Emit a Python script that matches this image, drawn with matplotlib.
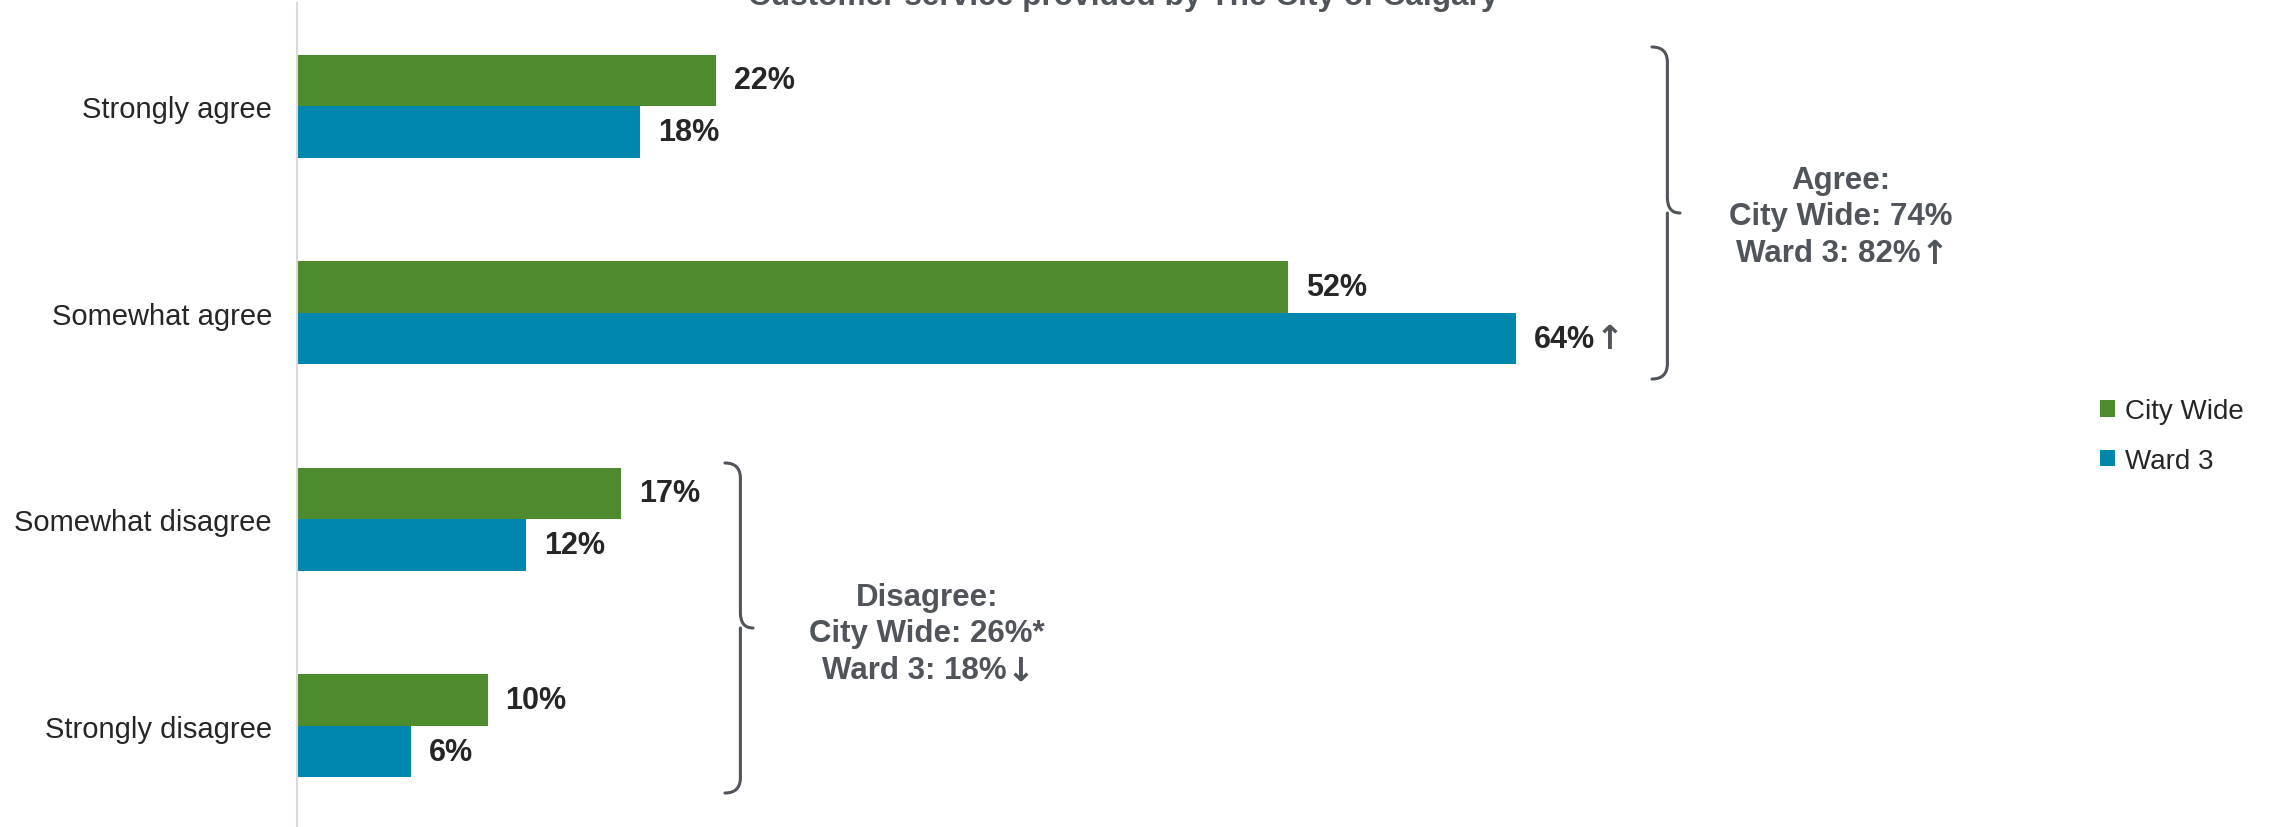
import matplotlib
matplotlib.use("Agg")
import matplotlib.pyplot as plt
from matplotlib.path import Path
from matplotlib.patches import PathPatch

categories = ["Strongly agree", "Somewhat agree", "Somewhat disagree", "Strongly disagree"]
city_wide = [22, 52, 17, 10]
ward3 = [18, 64, 12, 6]
ward3_marks = ["", "\u2191", "", ""]
series_names = ["City Wide", "Ward 3"]
title = "Customer service provided by The City of Calgary"
agree_text = ["Agree:", "City Wide: 74%", "Ward 3: 82%"]
agree_mark = "\u2191"
disagree_text = ["Disagree:", "City Wide: 26%*", "Ward 3: 18%"]
disagree_mark = "\u2193"

GREEN = "#4E8A2E"
BLUE = "#0087AD"
DARK = "#262626"
GRAY = "#50545B"
FONT = ["Liberation Sans", "DejaVu Sans"]
ARROWFONT = ["DejaVu Sans"]

plt.rcParams["font.family"] = FONT

W, H = 2272, 828
fig = plt.figure(figsize=(W / 100, H / 100), dpi=100)
ax_left = 297 / W
px_per_pct = 19.05
xmax = 80
ax = fig.add_axes([ax_left, 0, xmax * px_per_pct / W, 1 - 4 / H])
ax.set_xlim(0, xmax)
ax.set_ylim(3.49, -0.5)

h = 0.25
ys = list(range(len(categories)))
ax.barh([y - h / 2 for y in ys], city_wide, height=h, color=GREEN, label=series_names[0])
ax.barh([y + h / 2 for y in ys], ward3, height=h, color=BLUE, label=series_names[1])

for y, v in zip(ys, city_wide):
    ax.annotate(f"{v}%", xy=(v, y - h / 2), xytext=(13, 0), textcoords="offset points",
                va="center", ha="left", fontsize=22, fontweight="bold", color=DARK)
for y, v, m in zip(ys, ward3, ward3_marks):
    t = ax.annotate(f"{v}%", xy=(v, y + h / 2), xytext=(13, 0), textcoords="offset points",
                    va="center", ha="left", fontsize=22, fontweight="bold", color=DARK)
    if m:
        ax.annotate(m, xy=(1, 0.5), xycoords=t, xytext=(0, 0), textcoords="offset points",
                    va="center", ha="left", fontsize=24, fontweight="bold", color=GRAY,
                    family=ARROWFONT)

ax.set_yticks(ys)
ax.set_yticklabels(categories, fontsize=21, color=DARK)
ax.tick_params(axis="y", length=0, pad=18)
ax.set_xticks([])
for s in ["top", "right", "bottom"]:
    ax.spines[s].set_visible(False)
ax.spines["left"].set_color("#D9D9D9")
ax.spines["left"].set_linewidth(1.5)


def brace(x0, y_top, y_bot, width):
    # right-pointing curly brace in figure pixel coords (y from top)
    ym = (y_top + y_bot) / 2
    r = width * 0.55
    xs = x0 + width * 0.55
    verts = [
        (x0, y_top), (xs, y_top), (xs, y_top + r),
        (xs, ym - r),
        (xs, ym), (x0 + width, ym),
        (xs, ym), (xs, ym + r),
        (xs, y_bot - r),
        (xs, y_bot), (x0, y_bot),
    ]
    codes = [Path.MOVETO, Path.CURVE3, Path.CURVE3,
             Path.LINETO,
             Path.CURVE3, Path.CURVE3,
             Path.MOVETO, Path.CURVE3,
             Path.LINETO,
             Path.CURVE3, Path.CURVE3]
    verts = [(x / W, 1 - y / H) for x, y in verts]
    p = PathPatch(Path(verts, codes), transform=fig.transFigure, fill=False,
                  edgecolor=GRAY, linewidth=2.2, capstyle="round", joinstyle="round")
    fig.add_artist(p)


brace(1652, 48, 380, 28)
brace(725, 464, 794, 28)


def block(cx, y0, lines, mark):
    n = len(lines)
    for i, line in enumerate(lines):
        last = i == n - 1
        xo = -13 if last else 0
        t = fig.text((cx + xo) / W, 1 - (y0 + 36.5 * i) / H, line, ha="center", va="center",
                     fontsize=22.5, fontweight="bold", color=GRAY)
        if last:
            ax.annotate(mark, xy=(1, 0.5), xycoords=t, xytext=(0, 0), textcoords="offset points",
                        ha="left", va="center", fontsize=24, fontweight="bold", color=GRAY,
                        family=ARROWFONT, annotation_clip=False)


block(1841, 181, agree_text, agree_mark)
block(927, 598, disagree_text, disagree_mark)

fig.text(1123 / W, 1 - 5 / H, title, ha="center", va="baseline",
         fontsize=22.8, fontweight="bold", color=GRAY)

leg = fig.legend(loc="center left", bbox_to_anchor=(2075 / W, 1 - 437 / H), frameon=False,
                 fontsize=20, handlelength=0.55, handleheight=0.55, handletextpad=0.35,
                 labelspacing=0.85, labelcolor=DARK)

fig.savefig("out.png", dpi=100)
